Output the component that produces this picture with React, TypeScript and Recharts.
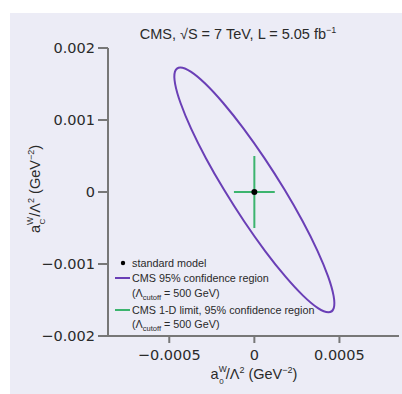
import React from 'react';
import { ComposedChart, Line, Scatter, XAxis, YAxis, Customized } from 'recharts';

// 95% confidence region contour (a0W/Λ², aCW/Λ²)
const ellipseX = [
  -0.00044, -0.000378, -0.000291, -0.000184, -0.000064, 0.00006, 0.00018, 0.000288,
  0.000376, 0.000438, 0.000471, 0.000472, 0.00044, 0.000378, 0.000291, 0.000184,
  0.000064, -0.00006, -0.00018, -0.000288, -0.000376, -0.000438, -0.000471, -0.000472,
];
const ellipseY = [
  0.00175, 0.00169, 0.00152, 0.001246, 0.00089, 0.000475, 0.00003, -0.000415,
  -0.00083, -0.001186, -0.00146, -0.001632, -0.00169, -0.001632, -0.00146, -0.001186,
  -0.00083, -0.000415, 0.00003, 0.000475, 0.00089, 0.001246, 0.00152, 0.00169,
];
// 1-D limits cross
const limitVX = [0, 0];
const limitVY = [0.0005, -0.0005];
const limitHX = [-0.00012, 0.00012];
const limitHY = [0, 0];
// standard model point
const smX = [0];
const smY = [0];

const xTicks = [-0.0005, 0, 0.0005];
const yTicks = [-0.002, -0.001, 0, 0.001, 0.002];
const legendLabels = [
  'standard model',
  'CMS 95% confidence region',
  'CMS 1-D limit, 95% confidence region',
];

const ellipseData = ellipseX.map((x, i) => ({ x, y: ellipseY[i] }));
const vData = limitVX.map((x, i) => ({ x, y: limitVY[i] }));
const hData = limitHX.map((x, i) => ({ x, y: limitHY[i] }));
const smData = smX.map((x, i) => ({ x, y: smY[i] }));

const PURPLE = '#6a3fb6';
const GREEN = '#3cb46e';
const AXIS = '#777777';
const TEXT = '#2a2a2a';
const FONT = '"Liberation Sans", Arial, sans-serif';
const TICKFONT = '"DejaVu Sans", sans-serif';

const fmt = (v: number) => (v === 0 ? '0' : String(v).replace('-', '\u2212'));

const AxisTitle = ({ sub }: { sub: string }) => (
  <>
    a
    <tspan dy={-7} fontSize={8.5}>W</tspan>
    <tspan dx={-7.5} dy={12} fontSize={8}>{sub}</tspan>
    <tspan dx={2} dy={-5}>/Λ</tspan>
    <tspan dy={-6} fontSize={9}>2</tspan>
    <tspan dy={6}> (GeV</tspan>
    <tspan dy={-6} fontSize={9}>−2</tspan>
    <tspan dy={6}>)</tspan>
  </>
);

const Texts = () => (
  <g fontFamily={FONT} fill={TEXT}>
    <text x={238} y={39} fontSize={14.5} textAnchor="middle">
      CMS, √S = 7 TeV, L = 5.05 fb
      <tspan dy={-6} fontSize={9}>−1</tspan>
    </text>
    <text x={254} y={379} fontSize={14.5} textAnchor="middle">
      <AxisTitle sub="0" />
    </text>
    <text x={0} y={0} fontSize={14.5} textAnchor="middle" transform="translate(40,189) rotate(-90)">
      <AxisTitle sub="C" />
    </text>
    <g fontSize={10.8} fill={TEXT}>
      <circle cx={123} cy={263} r={2.2} fill="#000" />
      <text x={132} y={267}>{legendLabels[0]}</text>
      <line x1={115} x2={130} y1={278} y2={278} stroke={PURPLE} strokeWidth={2} />
      <text x={132} y={282}>{legendLabels[1]}</text>
      <text x={132} y={297}>
        (Λ<tspan dy={3} fontSize={7.5}>cutoff</tspan>
        <tspan dy={-3}> = 500 GeV)</tspan>
      </text>
      <line x1={115} x2={130} y1={310} y2={310} stroke={GREEN} strokeWidth={2} />
      <text x={132} y={314}>{legendLabels[2]}</text>
      <text x={132} y={328}>
        (Λ<tspan dy={3} fontSize={7.5}>cutoff</tspan>
        <tspan dy={-3}> = 500 GeV)</tspan>
      </text>
    </g>
  </g>
);

export default function App() {
  return (
    <div style={{ position: 'absolute', left: 0, top: 0, width: 402, height: 394, background: '#fff' }}>
      <div style={{ position: 'absolute', left: 10, top: 13, width: 392, height: 381, background: '#ececf6' }} />
      <div style={{ position: 'absolute', left: 0, top: 0 }}>
        <ComposedChart width={402} height={394} margin={{ top: 48, right: 3, bottom: 0, left: 0 }}>
          <XAxis
            xAxisId="b"
            type="number"
            dataKey="x"
            domain={[-0.00086, 0.00085]}
            ticks={xTicks}
            tickFormatter={fmt}
            allowDataOverflow
            height={58}
            tickSize={7}
            tickMargin={7}
            axisLine={{ stroke: AXIS, strokeWidth: 2 }}
            tickLine={{ stroke: AXIS, strokeWidth: 2 }}
            tick={{ fill: TEXT, fontSize: 14.5, fontFamily: TICKFONT }}
          />
          <XAxis
            xAxisId="t"
            orientation="top"
            type="number"
            dataKey="x"
            domain={[-0.00086, 0.00085]}
            allowDataOverflow
            height={0}
            tick={false}
            tickLine={false}
            axisLine={{ stroke: AXIS, strokeWidth: 2 }}
          />
          <YAxis
            yAxisId="l"
            type="number"
            dataKey="y"
            domain={[-0.002, 0.002]}
            ticks={yTicks}
            tickFormatter={fmt}
            allowDataOverflow
            width={108}
            tickSize={10}
            tickMargin={3}
            axisLine={{ stroke: AXIS, strokeWidth: 2 }}
            tickLine={{ stroke: AXIS, strokeWidth: 2 }}
            tick={{ fill: TEXT, fontSize: 14.5, fontFamily: TICKFONT }}
          />
          <YAxis
            yAxisId="r"
            orientation="right"
            type="number"
            dataKey="y"
            domain={[-0.002, 0.002]}
            allowDataOverflow
            width={0}
            tick={false}
            tickLine={false}
            axisLine={{ stroke: AXIS, strokeWidth: 2 }}
          />
          <Line
            xAxisId="b"
            yAxisId="l"
            data={ellipseData}
            dataKey="y"
            type="basisClosed"
            stroke={PURPLE}
            strokeWidth={2}
            dot={false}
            isAnimationActive={false}
          />
          <Line
            xAxisId="b"
            yAxisId="l"
            data={vData}
            dataKey="y"
            type="linear"
            stroke={GREEN}
            strokeWidth={2}
            dot={false}
            isAnimationActive={false}
          />
          <Line
            xAxisId="b"
            yAxisId="l"
            data={hData}
            dataKey="y"
            type="linear"
            stroke={GREEN}
            strokeWidth={2}
            dot={false}
            isAnimationActive={false}
          />
          <Scatter
            xAxisId="b"
            yAxisId="l"
            data={smData}
            dataKey="y"
            fill="#000"
            shape={(p: any) => <circle cx={p.cx} cy={p.cy} r={3} fill="#000" />}
            isAnimationActive={false}
          />
          <Customized component={Texts} />
        </ComposedChart>
      </div>
    </div>
  );
}
